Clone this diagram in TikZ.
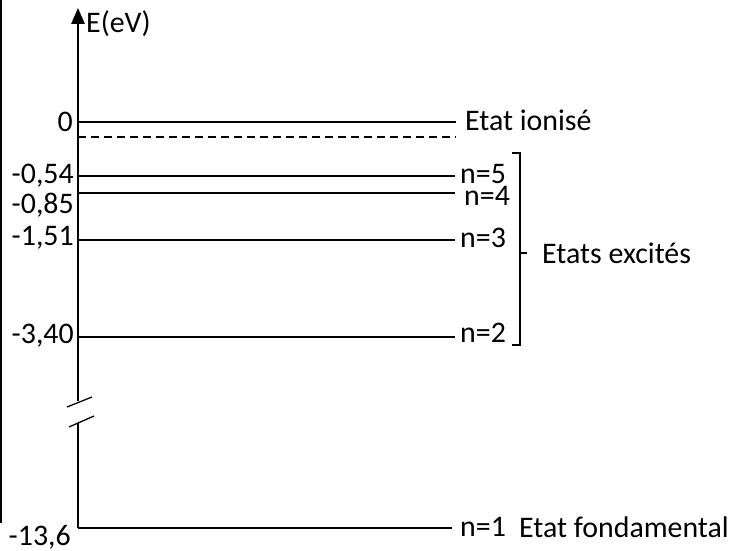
\documentclass[tikz,border=0pt]{standalone}
\usepackage{fontspec}
\setmainfont{Carlito}
\usetikzlibrary{arrows.meta,positioning}

\begin{document}
\begin{tikzpicture}[
    x=0.3mm,
    y=-0.3mm,
    >={Triangle[length=4.8mm,width=4mm]},
    every node/.style={font=\fontsize{25.5}{29}\selectfont, inner sep=0pt},
    niveau/.style={line width=1.6pt},
    crochet/.style={line width=1.1pt}
]
\useasboundingbox (0,0) rectangle (729,551);

% Frame edge
\draw[line width=1.2pt] (1,0) -- (1,523);

% Energy axis
\coordinate (sommet) at (78,8);
\coordinate (coupeH) at (78,401);
\coordinate (coupeB) at (78,423);
\coordinate (base) at (78,528);
\draw[->,niveau] (coupeH) -- (sommet);
\node[anchor=west] (axe) at (86,24) {E(eV)};
\draw[niveau] (coupeB) -- (base);

% Axis break
\draw[line width=1.1pt] (67,407) -- (92,397);
\draw[line width=1.1pt] (69,427) -- (94,416);

% Levels
\draw[niveau] (78,122) -- (456,122);
\draw[niveau,dash pattern=on 2.4mm off 1.5mm] (78,137) -- (456,137);
\draw[niveau] (78,176) -- (455,176);
\draw[niveau] (78,193) -- (455,193);
\draw[niveau] (78,240) -- (455,240);
\draw[niveau] (78,337) -- (455,337);
\draw[niveau] (base) -- (452,528);

% Energy values
\node[anchor=east] (v0) at (73,122) {0};
\node[anchor=east] (v5) at (74,176) {-0,54};
\node[anchor=east] (v4) at (74,205) {-0,85};
\node[anchor=east] (v3) at (74,238) {-1,51};
\node[anchor=east] (v2) at (74,336) {-3,40};
\node[anchor=east] (v1) at (71,537) {-13,6};

% Level names
\node[anchor=west] (ion) at (465,120) {Etat ionisé};
\node[anchor=west] (n5) at (460,174) {n=5};
\node[anchor=west] (n4) at (464,196) {n=4};
\node[anchor=west] (n3) at (460,238) {n=3};
\node[anchor=west] (n2) at (460,333) {n=2};
\node[anchor=west] (n1) at (460,527) {n=1};
\node[anchor=west] (fond) at (519,527) {Etat fondamental};

% Excited states bracket
\draw[crochet] (512,153) -- (520,153) -- (520,345) -- (512,345);
\draw[crochet] (520,253) -- (527,253);
\node[anchor=west] (exc) at (542,253) {Etats excités};

\end{tikzpicture}
\end{document}
